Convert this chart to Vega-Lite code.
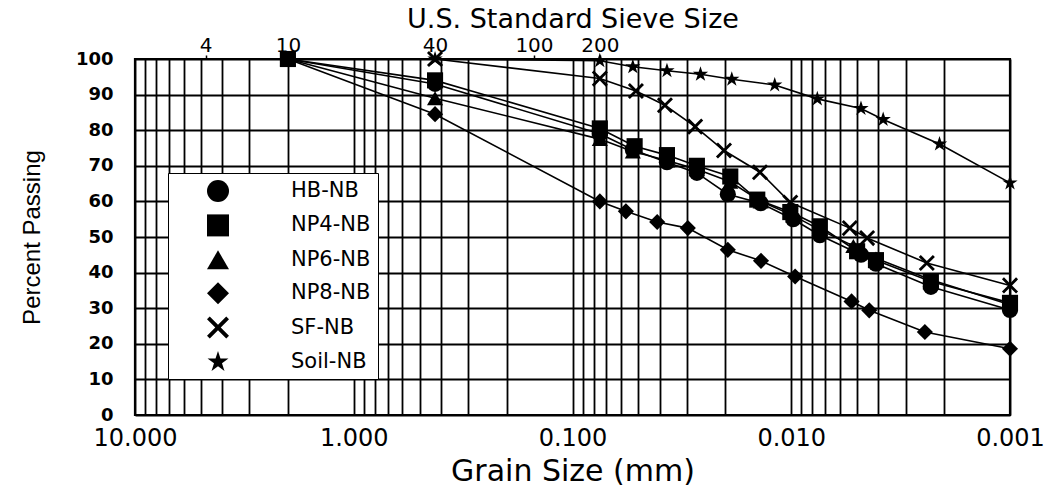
{
  "$schema": "https://vega.github.io/schema/vega-lite/v6.json",
  "width": 875,
  "height": 356,
  "autosize": {"type": "none"},
  "padding": {"left": 135, "top": 59, "right": 36, "bottom": 75},
  "background": "white",
  "config": {
    "view": {"stroke": "black", "strokeWidth": 2.2},
    "font": "DejaVu Sans",
    "axis": {
      "gridColor": "black", "gridOpacity": 1, "gridWidth": 1.8,
      "domain": false, "tickColor": "black", "labelColor": "black",
      "titleColor": "black", "titleFontWeight": "normal"
    }
  },
  "datasets": {
    "curves": [
      {"s": "HB-NB", "d": 2, "p": 100}, {"s": "HB-NB", "d": 0.425, "p": 93}, {"s": "HB-NB", "d": 0.075, "p": 79},
      {"s": "HB-NB", "d": 0.053, "p": 74.5}, {"s": "HB-NB", "d": 0.037, "p": 71}, {"s": "HB-NB", "d": 0.027, "p": 68},
      {"s": "HB-NB", "d": 0.0195, "p": 62}, {"s": "HB-NB", "d": 0.0138, "p": 59.5}, {"s": "HB-NB", "d": 0.0098, "p": 55},
      {"s": "HB-NB", "d": 0.0074, "p": 50.5}, {"s": "HB-NB", "d": 0.0048, "p": 45}, {"s": "HB-NB", "d": 0.0041, "p": 42.5},
      {"s": "HB-NB", "d": 0.0023, "p": 36}, {"s": "HB-NB", "d": 0.001, "p": 29.5},

      {"s": "NP4-NB", "d": 2, "p": 100}, {"s": "NP4-NB", "d": 0.425, "p": 94}, {"s": "NP4-NB", "d": 0.075, "p": 80.5},
      {"s": "NP4-NB", "d": 0.052, "p": 75.5}, {"s": "NP4-NB", "d": 0.037, "p": 73}, {"s": "NP4-NB", "d": 0.027, "p": 70},
      {"s": "NP4-NB", "d": 0.019, "p": 67}, {"s": "NP4-NB", "d": 0.0143, "p": 60.5}, {"s": "NP4-NB", "d": 0.0101, "p": 57},
      {"s": "NP4-NB", "d": 0.0074, "p": 53}, {"s": "NP4-NB", "d": 0.005, "p": 46}, {"s": "NP4-NB", "d": 0.0041, "p": 43.5},
      {"s": "NP4-NB", "d": 0.0023, "p": 37.5}, {"s": "NP4-NB", "d": 0.001, "p": 31.5},

      {"s": "NP6-NB", "d": 2, "p": 100}, {"s": "NP6-NB", "d": 0.425, "p": 89}, {"s": "NP6-NB", "d": 0.075, "p": 77.5},
      {"s": "NP6-NB", "d": 0.053, "p": 74}, {"s": "NP6-NB", "d": 0.037, "p": 71.5}, {"s": "NP6-NB", "d": 0.027, "p": 69},
      {"s": "NP6-NB", "d": 0.019, "p": 65.5}, {"s": "NP6-NB", "d": 0.0138, "p": 60}, {"s": "NP6-NB", "d": 0.0098, "p": 56},
      {"s": "NP6-NB", "d": 0.0074, "p": 52}, {"s": "NP6-NB", "d": 0.0052, "p": 47.5}, {"s": "NP6-NB", "d": 0.0041, "p": 44},
      {"s": "NP6-NB", "d": 0.0023, "p": 38}, {"s": "NP6-NB", "d": 0.001, "p": 31},

      {"s": "NP8-NB", "d": 2, "p": 100}, {"s": "NP8-NB", "d": 0.425, "p": 84.5}, {"s": "NP8-NB", "d": 0.075, "p": 60},
      {"s": "NP8-NB", "d": 0.057, "p": 57.2}, {"s": "NP8-NB", "d": 0.041, "p": 54.2}, {"s": "NP8-NB", "d": 0.0297, "p": 52.5},
      {"s": "NP8-NB", "d": 0.0195, "p": 46.4}, {"s": "NP8-NB", "d": 0.01375, "p": 43.3}, {"s": "NP8-NB", "d": 0.0096, "p": 38.9},
      {"s": "NP8-NB", "d": 0.0053, "p": 31.9}, {"s": "NP8-NB", "d": 0.0044, "p": 29.4}, {"s": "NP8-NB", "d": 0.00245, "p": 23.3},
      {"s": "NP8-NB", "d": 0.001, "p": 18.6},

      {"s": "SF-NB", "d": 0.425, "p": 100}, {"s": "SF-NB", "d": 0.075, "p": 94.5}, {"s": "SF-NB", "d": 0.0513, "p": 91},
      {"s": "SF-NB", "d": 0.0378, "p": 87}, {"s": "SF-NB", "d": 0.0275, "p": 81}, {"s": "SF-NB", "d": 0.0203, "p": 74.3},
      {"s": "SF-NB", "d": 0.0139, "p": 68.2}, {"s": "SF-NB", "d": 0.0101, "p": 59.7}, {"s": "SF-NB", "d": 0.0054, "p": 52.5},
      {"s": "SF-NB", "d": 0.0045, "p": 49.7}, {"s": "SF-NB", "d": 0.0024, "p": 42.7}, {"s": "SF-NB", "d": 0.001, "p": 36.4},

      {"s": "Soil-NB", "d": 0.425, "p": 100}, {"s": "Soil-NB", "d": 0.075, "p": 99.5}, {"s": "Soil-NB", "d": 0.053, "p": 97.8},
      {"s": "Soil-NB", "d": 0.037, "p": 96.7}, {"s": "Soil-NB", "d": 0.026, "p": 95.7}, {"s": "Soil-NB", "d": 0.0187, "p": 94.3},
      {"s": "Soil-NB", "d": 0.0119, "p": 92.7}, {"s": "Soil-NB", "d": 0.0076, "p": 88.8}, {"s": "Soil-NB", "d": 0.0048, "p": 86.1},
      {"s": "Soil-NB", "d": 0.0038, "p": 83}, {"s": "Soil-NB", "d": 0.0021, "p": 76.1}, {"s": "Soil-NB", "d": 0.001, "p": 65.2}
    ]
  },
  "data": {"name": "curves"},
  "layer": [
    {
      "mark": {"type": "line", "interpolate": "linear", "color": "black", "strokeWidth": 1.6},
      "encoding": {
        "x": {
          "field": "d", "type": "quantitative",
          "scale": {"type": "log", "domain": [0.001, 10], "reverse": true, "nice": false},
          "axis": {
            "orient": "bottom",
            "values": [0.001, 0.002, 0.003, 0.004, 0.005, 0.006, 0.007, 0.008, 0.009,
                       0.01, 0.02, 0.03, 0.04, 0.05, 0.06, 0.07, 0.08, 0.09,
                       0.1, 0.2, 0.3, 0.4, 0.5, 0.6, 0.7, 0.8, 0.9,
                       1, 2, 3, 4, 5, 6, 7, 8, 9, 10],
            "labelExpr": "indexof([10, 1, 0.1, 0.01, 0.001], datum.value) >= 0 ? format(datum.value, '.3f') : ''",
            "grid": true, "ticks": false,
            "labelFlush": false, "labelOverlap": false, "labelBound": false,
            "labelFontSize": 24, "labelPadding": 11,
            "title": "Grain Size (mm)", "titleFontSize": 30, "titlePadding": 6
          }
        },
        "y": {
          "field": "p", "type": "quantitative",
          "scale": {"domain": [0, 100], "nice": false},
          "axis": {
            "values": [0, 10, 20, 30, 40, 50, 60, 70, 80, 90, 100],
            "grid": true, "ticks": false,
            "labelFontSize": 18, "labelFontWeight": "bold", "labelPadding": 22,
            "title": "Percent Passing", "titleFont": "Liberation Sans", "titleFontSize": 24, "titlePadding": 31
          }
        },
        "detail": {"field": "s", "type": "nominal"}
      }
    },
    {
      "mark": {"type": "point", "filled": true, "color": "black", "opacity": 1, "size": 260, "strokeWidth": 0},
      "encoding": {
        "x": {
          "field": "d", "type": "quantitative",
          "axis": {
            "orient": "top",
            "values": [4.75, 2, 0.425, 0.15, 0.075],
            "labelExpr": "datum.value == 4.75 ? '4' : datum.value == 2 ? '10' : datum.value == 0.425 ? '40' : datum.value == 0.15 ? '100' : '200'",
            "grid": false, "ticks": true, "tickSize": 4, "tickWidth": 1.5,
            "labelFlush": false, "labelOverlap": false,
            "labelFontSize": 20, "labelPadding": 0,
            "title": "U.S. Standard Sieve Size", "titleFontSize": 27,
            "titleY": -32, "titleBaseline": "alphabetic"
          }
        },
        "y": {
          "field": "p", "type": "quantitative",
          "axis": {
            "values": [0, 10, 20, 30, 40, 50, 60, 70, 80, 90, 100],
            "grid": true, "ticks": false,
            "labelFontSize": 18, "labelFontWeight": "bold", "labelPadding": 22,
            "title": "Percent Passing", "titleFont": "Liberation Sans", "titleFontSize": 24, "titlePadding": 31
          }
        },
        "shape": {
          "field": "s", "type": "nominal",
          "scale": {
            "domain": ["HB-NB", "NP4-NB", "NP6-NB", "NP8-NB", "SF-NB", "Soil-NB"],
            "range": [
              "circle", "square", "triangle-up", "diamond",
              "M-1,-0.75L-0.75,-1L0,-0.25L0.75,-1L1,-0.75L0.25,0L1,0.75L0.75,1L0,0.25L-0.75,1L-1,0.75L-0.25,0Z",
              "M0,-1L0.225,-0.309L0.951,-0.309L0.363,0.118L0.588,0.809L0,0.382L-0.588,0.809L-0.363,0.118L-0.951,-0.309L-0.225,-0.309Z"
            ]
          },
          "legend": {
            "title": null,
            "orient": "none", "legendX": 33, "legendY": 114,
            "fillColor": "white", "strokeColor": "black",
            "padding": 7, "symbolSize": 484, "symbolFillColor": "black", "symbolStrokeWidth": 0,
            "symbolOffset": 32, "labelOffset": 62, "rowPadding": 12.4,
            "labelFontSize": 21, "labelFont": "DejaVu Sans", "labelColor": "black",
            "encode": {
              "legend": {"update": {"strokeWidth": {"value": 2}}},
              "symbols": {"update": {"size": {"value": 484}, "fill": {"value": "black"}, "opacity": {"value": 1}}}
            }
          }
        }
      }
    }
  ],
  "resolve": {"axis": {"x": "independent"}}
}
